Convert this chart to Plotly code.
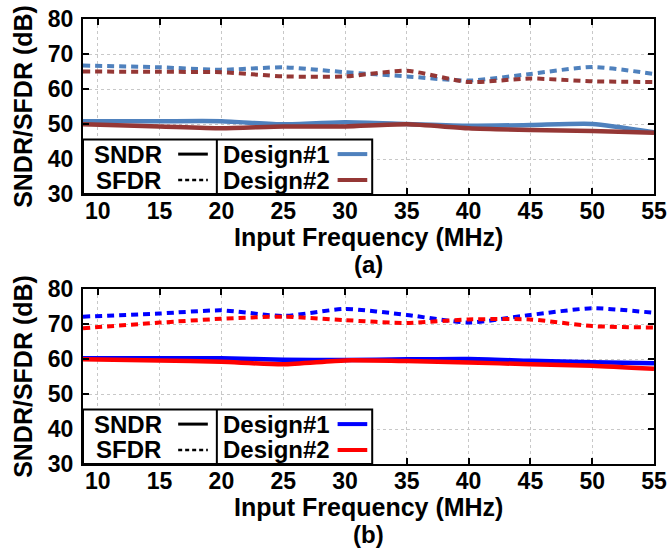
import plotly.graph_objects as go

freq = [8.8, 15, 20, 25, 30, 35, 40, 45, 50, 55]
# (a)
a_sndr_d1 = [50.8, 50.8, 50.8, 49.9, 50.5, 50.0, 49.5, 49.7, 50.0, 47.6]
a_sndr_d2 = [49.9, 49.3, 48.8, 49.3, 49.3, 49.9, 48.8, 48.3, 48.0, 47.5]
a_sfdr_d1 = [66.7, 66.2, 65.5, 66.2, 64.8, 63.6, 62.4, 64.3, 66.3, 64.3]
a_sfdr_d2 = [65.0, 64.9, 64.8, 63.6, 63.6, 65.2, 62.0, 63.0, 62.2, 62.0]
# (b)
b_sndr_d1 = [60.2, 60.2, 60.2, 59.8, 59.7, 59.9, 60.0, 59.5, 59.1, 58.8]
b_sndr_d2 = [59.9, 59.6, 59.2, 58.5, 59.6, 59.4, 59.0, 58.5, 58.1, 57.2]
b_sfdr_d1 = [72.1, 73.0, 73.9, 72.3, 74.3, 72.6, 70.4, 72.6, 74.5, 73.2]
b_sfdr_d2 = [68.8, 70.4, 71.5, 72.1, 71.1, 70.3, 71.3, 71.3, 69.4, 69.0]

x_ticks = [10, 15, 20, 25, 30, 35, 40, 45, 50, 55]
y_ticks = [30, 40, 50, 60, 70, 80]
panel_labels = ["(a)", "(b)"]
x_title = "Input Frequency (MHz)"
y_title = "SNDR/SFDR (dB)"

colors_a = ["#4f81bd", "#953735"]
colors_b = ["#0000ff", "#ff0000"]

FONT = "Liberation Sans"
DOT = "7px,5px"

fig = go.Figure()

def add_panel(xa, ya, sndr1, sndr2, sfdr1, sfdr2, cols):
    for ys, col, dash in [(sfdr1, cols[0], DOT), (sfdr2, cols[1], DOT),
                          (sndr1, cols[0], "solid"), (sndr2, cols[1], "solid")]:
        fig.add_trace(go.Scatter(x=freq, y=ys, mode="lines", xaxis=xa, yaxis=ya,
                                 line=dict(color=col, width=4.5 if dash == "solid" else 4,
                                           dash=dash, shape="spline", smoothing=0.6),
                                 showlegend=False, hoverinfo="skip"))

add_panel("x", "y", a_sndr_d1, a_sndr_d2, a_sfdr_d1, a_sfdr_d2, colors_a)
add_panel("x2", "y2", b_sndr_d1, b_sndr_d2, b_sfdr_d1, b_sfdr_d2, colors_b)

axis_common = dict(range=[8.8, 55], tickvals=x_ticks, ticks="inside", ticklen=6,
                   tickwidth=1.5, tickcolor="black", showline=True, linewidth=2,
                   linecolor="black", mirror="ticks", showgrid=True, gridcolor="#c8c8c8",
                   griddash="dot", gridwidth=1, zeroline=False, automargin=False,
                   ticklabelstandoff=-5,
                   tickfont=dict(family=FONT, size=23, color="black", weight="bold"))
yaxis_common = dict(range=[30, 80], tickvals=y_ticks, ticks="inside", ticklen=6,
                    tickwidth=1.5, tickcolor="black", showline=True, linewidth=2,
                    linecolor="black", mirror="ticks", showgrid=True, gridcolor="#c8c8c8",
                    griddash="dot", gridwidth=1, zeroline=False, automargin=False,
                    ticklabelstandoff=3,
                    tickfont=dict(family=FONT, size=23, color="black", weight="bold"),
                    title=dict(text=y_title, standoff=8,
                               font=dict(family=FONT, size=25, color="black", weight="bold")))

top_dom = [(464 - 194) / 445, 1.0]
bot_dom = [0.0, (464 - 289) / 445]

fig.update_layout(
    template="none",
    width=669, height=550,
    margin=dict(l=83, r=15, t=19, b=86, autoexpand=False),
    paper_bgcolor="white", plot_bgcolor="white",
    xaxis=dict(domain=[0, 1], anchor="y", **axis_common),
    yaxis=dict(domain=top_dom, anchor="x", **yaxis_common),
    xaxis2=dict(domain=[0, 1], anchor="y2", **axis_common),
    yaxis2=dict(domain=bot_dom, anchor="x2", **yaxis_common),
)

shapes = []
annotations = []
lfont = dict(family=FONT, size=24, color="black", weight="bold")
tfont = dict(family=FONT, size=25, color="black", weight="bold")
for (xr, yr, cols) in [("x", "y", colors_a), ("x2", "y2", colors_b)]:
    # legend box
    shapes.append(dict(type="rect", xref=xr, yref=yr, x0=8.8, x1=32.2, y0=30, y1=45.6,
                       line=dict(color="black", width=2), fillcolor="white", layer="above"))
    shapes.append(dict(type="line", xref=xr, yref=yr, x0=19.63, x1=19.63, y0=30, y1=45.6,
                       line=dict(color="black", width=2), layer="above"))
    # samples
    shapes.append(dict(type="line", xref=xr, yref=yr, x0=16.5, x1=18.9, y0=41.4, y1=41.4,
                       line=dict(color="black", width=3), layer="above"))
    shapes.append(dict(type="line", xref=xr, yref=yr, x0=16.5, x1=18.9, y0=34.0, y1=34.0,
                       line=dict(color="black", width=2.5, dash="4px,3px"), layer="above"))
    shapes.append(dict(type="line", xref=xr, yref=yr, x0=29.4, x1=31.8, y0=41.4, y1=41.4,
                       line=dict(color=cols[0], width=4), layer="above"))
    shapes.append(dict(type="line", xref=xr, yref=yr, x0=29.4, x1=31.8, y0=34.0, y1=34.0,
                       line=dict(color=cols[1], width=4), layer="above"))
    for txt, xx, yy in [("SNDR", 12.45, 41.4), ("SFDR", 12.45, 34.0)]:
        annotations.append(dict(text=txt, xref=xr, yref=yr, x=xx, y=yy, showarrow=False,
                                xanchor="center", yanchor="middle", font=lfont))
    for txt, yy in [("Design#1", 41.4), ("Design#2", 34.0)]:
        annotations.append(dict(text=txt, xref=xr, yref=yr, x=20.0, y=yy, showarrow=False,
                                xanchor="left", yanchor="middle", font=lfont))

# x-axis titles and panel labels (pixel rows converted to paper fractions)
def py(px):
    return (464 - px) / 445

for off, lab in [(0, panel_labels[0]), (270, panel_labels[1])]:
    annotations.append(dict(text=x_title, xref="paper", yref="paper", x=0.5,
                            y=py(237 + off), showarrow=False, xanchor="center",
                            yanchor="middle", font=tfont))
    annotations.append(dict(text=lab, xref="paper", yref="paper", x=0.5,
                            y=py(264 + off), showarrow=False, xanchor="center",
                            yanchor="middle", font=lfont))

fig.update_layout(shapes=shapes, annotations=annotations)
fig.write_html("out.html", post_script="document.body.style.margin='0px';",
               config={"displayModeBar": False})
